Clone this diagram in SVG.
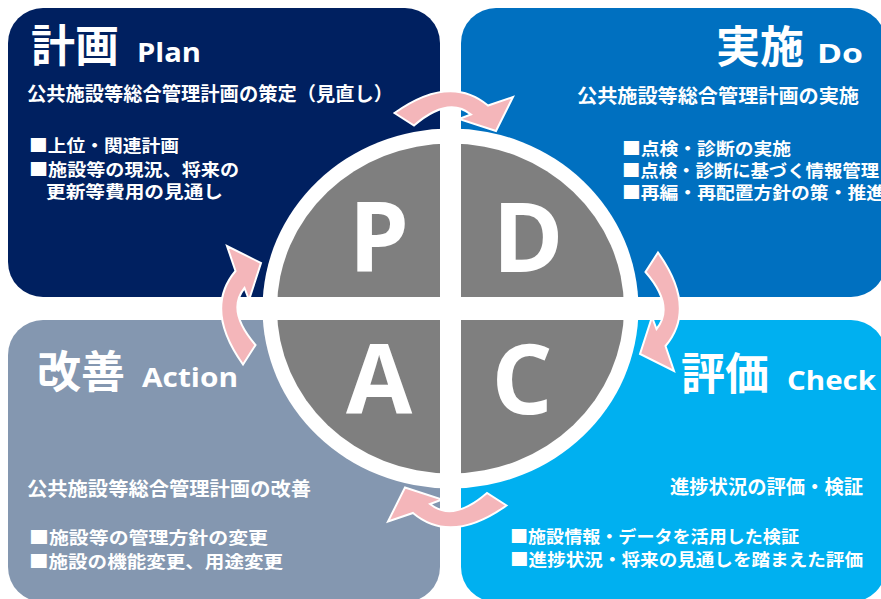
<svg xmlns="http://www.w3.org/2000/svg" xmlns:xlink="http://www.w3.org/1999/xlink" width="881" height="599" viewBox="0 0 881 599">
<style>
.jp{font-family:"Noto Sans CJK JP","Noto Sans",sans-serif;font-weight:700;fill:#fff}
.en{font-family:"Open Sans","Noto Sans",sans-serif;font-weight:700;fill:#fff}
.ttl{font-size:44px}
.ten{font-size:27px}
.sub{font-size:19px}
.bul{font-size:17.5px}
.big{font-family:"Open Sans","Noto Sans",sans-serif;font-weight:700;font-size:96px;fill:#fff;text-anchor:middle}
.arrow{fill:#F4B6BA;stroke:#fff;stroke-width:2;stroke-linejoin:miter}
</style>
<defs>
<path id="carrow" d="M-56,-195.5 Q-0.5,-235 37.5,-203 L62.5,-211.5 L45.5,-177.5 L8.5,-189.5 L20.5,-194 Q-2.5,-212.5 -36.5,-183 Z"/>
</defs>
<rect width="881" height="599" fill="#fff"/>

<g id="node-plan">
<rect x="8" y="8" width="432" height="289" rx="35" fill="#002060"/>
<text class="jp ttl" x="31" y="62">計画</text>
<text class="en ten" x="137" y="62" textLength="64" lengthAdjust="spacingAndGlyphs">Plan</text>
<text class="jp sub" x="27" y="101" textLength="366" lengthAdjust="spacingAndGlyphs">公共施設等総合管理計画の策定（見直し）</text>
<text class="jp bul" x="29" y="152" textLength="150" lengthAdjust="spacingAndGlyphs">■上位・関連計画</text>
<text class="jp bul" x="29" y="176" textLength="210" lengthAdjust="spacingAndGlyphs">■施設等の現況、将来の</text>
<text class="jp bul" x="46" y="198" textLength="177" lengthAdjust="spacingAndGlyphs">更新等費用の見通し</text>
</g>

<g id="node-do">
<rect x="461" y="8" width="425" height="289" rx="35" fill="#0070C0"/>
<text class="jp ttl" x="716" y="63">実施</text>
<text class="en ten" x="817" y="63" textLength="46" lengthAdjust="spacingAndGlyphs">Do</text>
<text class="jp sub" x="577" y="103" textLength="282" lengthAdjust="spacingAndGlyphs">公共施設等総合管理計画の実施</text>
<text class="jp bul" x="622" y="155" textLength="169" lengthAdjust="spacingAndGlyphs">■点検・診断の実施</text>
<text class="jp bul" x="622" y="177" textLength="257" lengthAdjust="spacingAndGlyphs">■点検・診断に基づく情報管理</text>
<text class="jp bul" x="622" y="199" textLength="263" lengthAdjust="spacingAndGlyphs">■再編・再配置方針の策・推進</text>
</g>

<g id="node-action">
<rect x="8" y="320" width="432" height="282" rx="35" fill="#8497B0"/>
<text class="jp ttl" x="37" y="388">改善</text>
<text class="en ten" x="142" y="387" textLength="96" lengthAdjust="spacingAndGlyphs">Action</text>
<text class="jp sub" x="27" y="496" textLength="284" lengthAdjust="spacingAndGlyphs">公共施設等総合管理計画の改善</text>
<text class="jp bul" x="29" y="544" textLength="239" lengthAdjust="spacingAndGlyphs">■施設等の管理方針の変更</text>
<text class="jp bul" x="29" y="568" textLength="254" lengthAdjust="spacingAndGlyphs">■施設の機能変更、用途変更</text>
</g>

<g id="node-check">
<rect x="461" y="320" width="425" height="282" rx="35" fill="#00B0F0"/>
<text class="jp ttl" x="681" y="390">評価</text>
<text class="en ten" x="787" y="390" textLength="89" lengthAdjust="spacingAndGlyphs">Check</text>
<text class="jp sub" x="670" y="494" textLength="193" lengthAdjust="spacingAndGlyphs">進捗状況の評価・検証</text>
<text class="jp bul" x="510" y="543" textLength="289" lengthAdjust="spacingAndGlyphs">■施設情報・データを活用した検証</text>
<text class="jp bul" x="510" y="566" textLength="353" lengthAdjust="spacingAndGlyphs">■進捗状況・将来の見通しを踏まえた評価</text>
</g>

<g id="node-pdca">
<ellipse cx="450.5" cy="308.5" rx="188" ry="180" fill="#fff"/>
<ellipse cx="450.5" cy="308.5" rx="173.5" ry="165" fill="#7F7F7F"/>
<rect x="440" y="128" width="21" height="362" fill="#fff"/>
<rect x="262" y="297" width="378" height="23" fill="#fff"/>
<text class="big" x="379" y="272">P</text>
<text class="big" x="528" y="272">D</text>
<text class="big" x="379" y="414">A</text>
<text class="big" x="522" y="414">C</text>
</g>

<g id="connectors">
<use xlink:href="#carrow" href="#carrow" class="arrow" transform="translate(450.5,308.5)"/>
<use xlink:href="#carrow" href="#carrow" class="arrow" transform="translate(462.5,308.5) rotate(90)"/>
<use xlink:href="#carrow" href="#carrow" class="arrow" transform="translate(450.5,310) rotate(180)"/>
<use xlink:href="#carrow" href="#carrow" class="arrow" transform="translate(438.5,308.5) rotate(-90)"/>
</g>
</svg>
